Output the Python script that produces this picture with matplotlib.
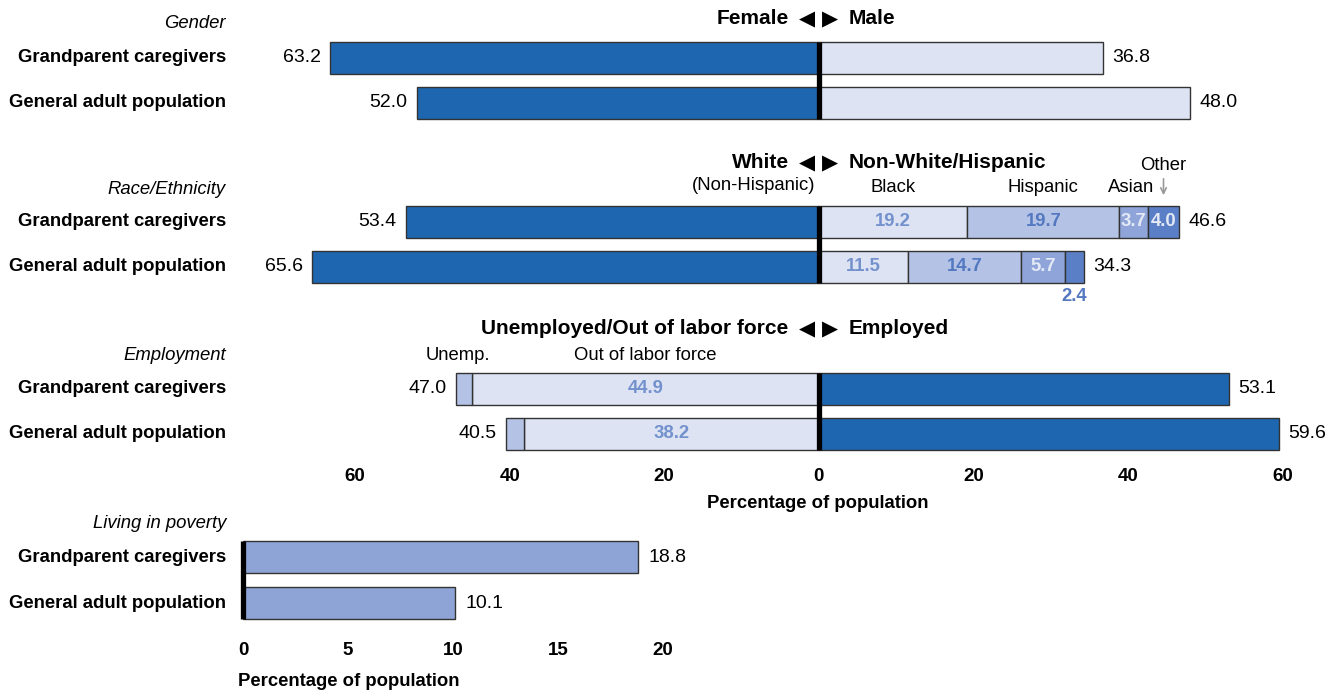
import numpy as np
import matplotlib.pyplot as plt

plt.rcParams['font.family'] = ['Liberation Sans', 'DejaVu Sans']

groups = ['Grandparent caregivers', 'General adult population']

# gender (female left, male right)
female = [63.2, 52.0]
male = [36.8, 48.0]

# race / ethnicity
white = [53.4, 65.6]
black = [19.2, 11.5]
hispanic = [19.7, 14.7]
asian = [3.7, 5.7]
other = [4.0, 2.4]
nonwhite_total = [46.6, 34.3]

# employment
out_of_lf = [44.9, 38.2]
unemp = [2.1, 2.3]
not_employed_total = [47.0, 40.5]
employed = [53.1, 59.6]

# poverty
poverty = [18.8, 10.1]

main_ticks = [-60, -40, -20, 0, 20, 40, 60]
pov_ticks = [0, 5, 10, 15, 20]

dark = '#1f66b0'
light = '#dde3f3'
mid = '#b4c2e6'
mid2 = '#8fa4d8'
mid3 = '#5b7fc6'
pov_col = '#8fa4d6'
txt_blue = '#7391cd'
txt_blue2 = '#5478c0'
edge = '#333333'

W, H = 1339, 693
fig = plt.figure(figsize=(W / 100, H / 100), dpi=100)

# main axes: y data in pixel units from the top
ax = fig.add_axes([243 / W, 1 - 460 / H, (1298 - 243) / W, 460 / H])
ax.set_xlim(-74.5, 62)
ax.set_ylim(460, 0)
for s in ax.spines.values():
    s.set_visible(False)
ax.set_yticks([])
ax.set_xticks(main_ticks)
ax.set_xticklabels([str(abs(t)) for t in main_ticks], fontsize=13.5, fontweight='bold')
ax.tick_params(axis='x', length=0, pad=6)
fig.text(818 / W, 1 - 503 / H, 'Percentage of population', ha='center', va='center',
         fontsize=13.3, fontweight='bold')

bh = 32
kw = dict(height=bh, edgecolor=edge, linewidth=1)
fs = 14
bfs = 13.3

# ---- Gender
yg = [58, 102.5]
for i in range(2):
    ax.barh(yg[i], -female[i], color=dark, **kw)
    ax.barh(yg[i], male[i], color=light, **kw)
    ax.text(-female[i] - 1.2, yg[i], f'{female[i]:.1f}', ha='right', va='center', fontsize=fs)
    ax.text(male[i] + 1.2, yg[i], f'{male[i]:.1f}', ha='left', va='center', fontsize=fs)
ax.plot([0, 0], [yg[0] - bh / 2, yg[1] + bh / 2], color='black', lw=3.8, solid_capstyle='butt')

# ---- Race
yr = [221.5, 266.5]
for i in range(2):
    ax.barh(yr[i], -white[i], color=dark, **kw)
    left = 0
    for vals, col in [(black, light), (hispanic, mid), (asian, mid2), (other, mid3)]:
        ax.barh(yr[i], vals[i], left=left, color=col, **kw)
        left += vals[i]
    ax.text(-white[i] - 1.2, yr[i], f'{white[i]:.1f}', ha='right', va='center', fontsize=fs)
    ax.text(nonwhite_total[i] + 1.2, yr[i], f'{nonwhite_total[i]:.1f}', ha='left', va='center', fontsize=fs)
    ax.text(black[i] / 2, yr[i], f'{black[i]:.1f}', ha='center', va='center', fontsize=bfs,
            fontweight='bold', color=txt_blue)
    ax.text(black[i] + hispanic[i] / 2, yr[i], f'{hispanic[i]:.1f}', ha='center', va='center',
            fontsize=bfs, fontweight='bold', color=txt_blue2)
    xa = black[i] + hispanic[i] + asian[i] / 2
    ax.text(xa, yr[i], f'{asian[i]:.1f}', ha='center', va='center', fontsize=bfs,
            fontweight='bold', color='#e4e9f6')
xo = black[0] + hispanic[0] + asian[0] + other[0] / 2
ax.text(xo, yr[0], f'{other[0]:.1f}', ha='center', va='center', fontsize=bfs,
        fontweight='bold', color='#e4e9f6')
xo2 = black[1] + hispanic[1] + asian[1] + other[1] / 2
ax.text(xo2, yr[1] + 30, f'{other[1]:.1f}', ha='center', va='center', fontsize=bfs,
        fontweight='bold', color=txt_blue2)
ax.plot([0, 0], [yr[0] - bh / 2, yr[1] + bh / 2], color='black', lw=3.8, solid_capstyle='butt')

# ---- Employment
ye = [388.5, 433.5]
for i in range(2):
    ax.barh(ye[i], -out_of_lf[i], color=light, **kw)
    ax.barh(ye[i], -unemp[i], left=-out_of_lf[i], color=mid, **kw)
    ax.barh(ye[i], employed[i], color=dark, **kw)
    ax.text(-not_employed_total[i] - 1.2, ye[i], f'{not_employed_total[i]:.1f}', ha='right',
            va='center', fontsize=fs)
    ax.text(employed[i] + 1.2, ye[i], f'{employed[i]:.1f}', ha='left', va='center', fontsize=fs)
    ax.text(-out_of_lf[i] / 2, ye[i], f'{out_of_lf[i]:.1f}', ha='center', va='center',
            fontsize=bfs, fontweight='bold', color=txt_blue)
ax.plot([0, 0], [ye[0] - bh / 2, ye[1] + bh / 2], color='black', lw=3.8, solid_capstyle='butt')

# headers
hfs = 15
for y, lt, rt in [(18, 'Female', 'Male'), (162, 'White', 'Non-White/Hispanic'),
                  (328, 'Unemployed/Out of labor force', 'Employed')]:
    ax.text(-3.9, y, lt, ha='right', va='center', fontsize=hfs, fontweight='bold')
    ax.text(3.8, y, rt, ha='left', va='center', fontsize=hfs, fontweight='bold')
    ax.text(-1.6, y + 1, '\u25C0', ha='center', va='center', fontsize=15, family='DejaVu Sans')
    ax.text(1.5, y + 1, '\u25B6', ha='center', va='center', fontsize=15, family='DejaVu Sans')

# sub-labels
sfs = 13.3
ax.text(-8.4, 186, '(Non-Hispanic)', ha='center', va='center', fontsize=sfs)
ax.text(black[0] / 2, 188, 'Black', ha='center', va='center', fontsize=sfs)
ax.text(black[0] + hispanic[0] / 2, 188, 'Hispanic', ha='center', va='center', fontsize=sfs)
ax.text(black[0] + hispanic[0] + asian[0] / 2 - 0.3, 188, 'Asian', ha='center', va='center', fontsize=sfs)
ax.text(xo, 165, 'Other', ha='center', va='center', fontsize=sfs)
ax.annotate('', xy=(xo, 198), xytext=(xo, 176),
            arrowprops=dict(arrowstyle='->', color='#999999', lw=1.2))
ax.text(-46.7, 355, 'Unemp.', ha='center', va='center', fontsize=sfs)
ax.text(-22.5, 355, 'Out of labor force', ha='center', va='center', fontsize=sfs)

# left labels
def left_labels(y_title, title, ys):
    fig.text(226 / W, 1 - y_title / H, title, ha='right', va='center', fontsize=13.3, style='italic')
    for y, g in zip(ys, groups):
        fig.text(226 / W, 1 - y / H, g, ha='right', va='center', fontsize=13.3, fontweight='bold')

left_labels(24, 'Gender', yg)
left_labels(189, 'Race/Ethnicity', yr)
left_labels(355, 'Employment', ye)

# ---- Poverty
yp = [557, 603]
ax2 = fig.add_axes([243 / W, 1 - 628 / H, 525 / W, 100 / H])
ax2.set_xlim(0, 25)
ax2.set_ylim(628, 528)
for s in ax2.spines.values():
    s.set_visible(False)
ax2.set_yticks([])
ax2.set_xticks(pov_ticks)
ax2.set_xticklabels([str(t) for t in pov_ticks], fontsize=13.5, fontweight='bold')
ax2.tick_params(axis='x', length=0, pad=10)
fig.text(238 / W, 1 - 681 / H, 'Percentage of population', ha='left', va='center',
         fontsize=13.3, fontweight='bold')
for i in range(2):
    ax2.barh(yp[i], poverty[i], color=pov_col, **kw)
    ax2.text(poverty[i] + 0.5, yp[i], f'{poverty[i]:.1f}', ha='left', va='center', fontsize=fs)
ax2.plot([0, 0], [yp[0] - bh / 2, yp[1] + bh / 2], color='black', lw=3.8, solid_capstyle='butt',
         clip_on=False)
left_labels(524, 'Living in poverty', yp)

fig.savefig('out.png', dpi=100, facecolor='white')
